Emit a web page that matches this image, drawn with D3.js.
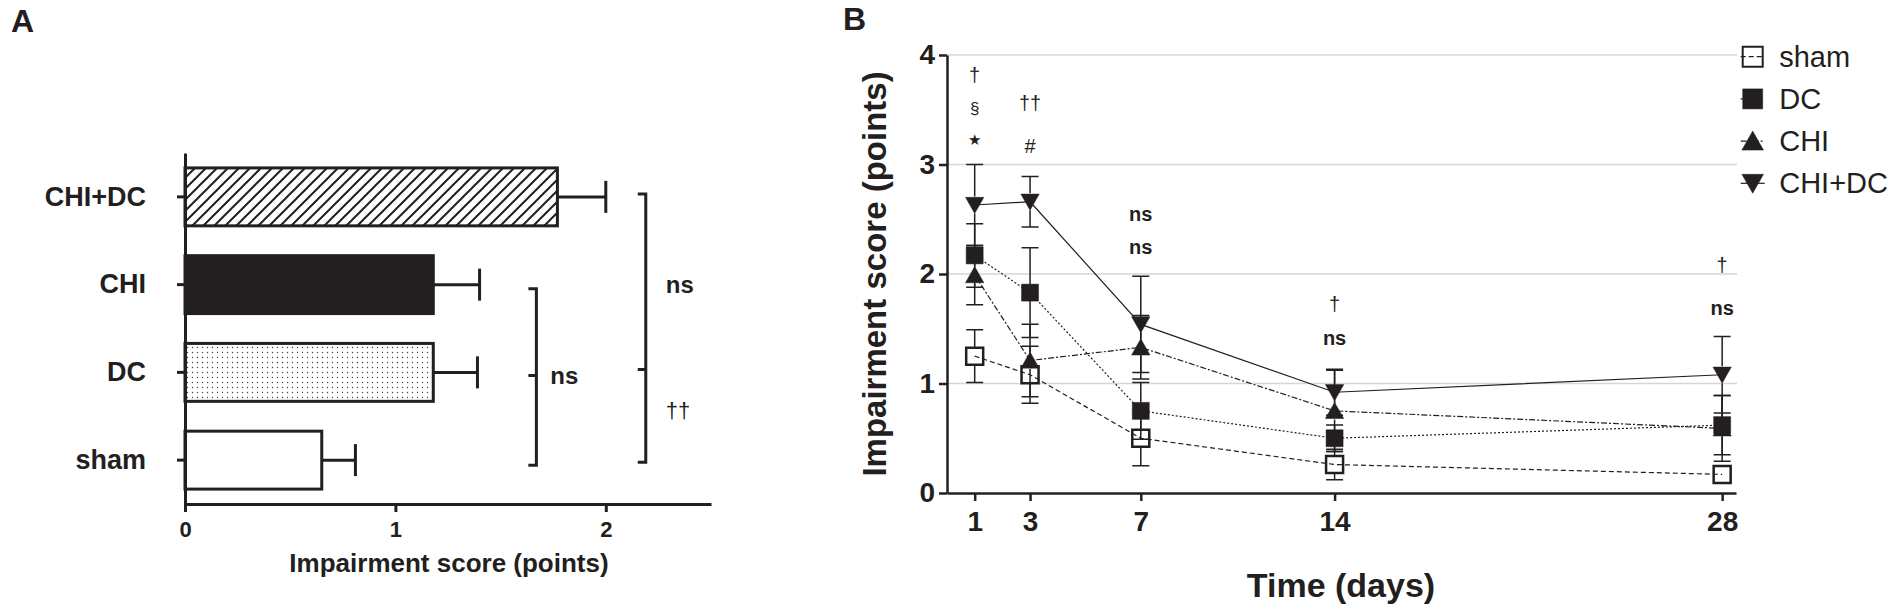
<!DOCTYPE html>
<html>
<head>
<meta charset="utf-8">
<script src="https://cdn.jsdelivr.net/npm/d3@7"></script>
<style>
  body { margin: 0; background: #fff; }
  text { font-family: "Liberation Sans", Arial, sans-serif; fill: #231f20; }
</style>
</head>
<body>
<div id="canvas"></div>
<script>
// ---- panel A data ----
const groupsA = ["CHI+DC", "CHI", "DC", "sham"];
const meanA = [1.77, 1.18, 1.18, 0.65];
const semA = [0.23, 0.22, 0.21, 0.16];
const ticksA = [0, 1, 2];

// ---- panel B data ----
const days = [1, 3, 7, 14, 28];
const seriesNames = ["sham", "DC", "CHI", "CHI+DC"];
const shamMean = [1.25, 1.08, 0.50, 0.26, 0.17];
const shamSem = [0.24, 0.26, 0.25, 0.14, 0.08];
const dcMean = [2.17, 1.83, 0.75, 0.50, 0.62];
const dcSem = [0.29, 0.41, 0.26, 0.12, 0.27];
const chiMean = [1.99, 1.21, 1.33, 0.75, 0.59];
const chiSem = [0.27, 0.33, 0.29, 0.37, 0.30];
const chidcMean = [2.63, 2.66, 1.54, 0.92, 1.08];
const chidcSem = [0.37, 0.23, 0.44, 0.21, 0.35];
const yTicksB = [0, 1, 2, 3, 4];

// significance marks above the time points
const noteDays = [1, 1, 1, 3, 3, 7, 7, 14, 14, 28, 28];
const noteVals = [3.82, 3.51, 3.22, 3.56, 3.17, 2.55, 2.25, 1.73, 1.42, 2.08, 1.69];
const noteText = ["†", "§", "★", "††", "#", "ns", "ns", "†", "ns", "†", "ns"];

const ink = "#231f20";
const width = 1902;
const height = 611;

const svg = d3.select("#canvas").append("svg")
  .attr("width", width)
  .attr("height", height);

const defs = svg.append("defs");
const hatch = defs.append("pattern")
  .attr("id", "hatch")
  .attr("patternUnits", "userSpaceOnUse")
  .attr("width", 11).attr("height", 11);
hatch.append("rect").attr("width", 11).attr("height", 11).attr("fill", "#fff");
hatch.append("path")
  .attr("d", "M-1,1 l2,-2 M0,11 l11,-11 M10,12 l2,-2")
  .attr("stroke", ink).attr("stroke-width", 2);

const dots = defs.append("pattern")
  .attr("id", "dots")
  .attr("patternUnits", "userSpaceOnUse")
  .attr("width", 5).attr("height", 5);
dots.append("rect").attr("width", 5).attr("height", 5).attr("fill", "#fff");
dots.append("circle").attr("cx", 2.5).attr("cy", 2.5).attr("r", 0.7).attr("fill", "#444");

const fills = { "CHI+DC": "url(#hatch)", "CHI": ink, "DC": "url(#dots)", "sham": "#fff" };

// ================= panel A =================
const xA = d3.scaleLinear().domain([0, 2.5]).range([185, 711]);
const yA = d3.scaleBand().domain(groupsA).range([153, 504])
  .paddingInner(0.34).paddingOuter(0.17);
const bw = yA.bandwidth();
const cA = (g) => yA(g) + bw / 2;

svg.append("text").attr("x", 11).attr("y", 32)
  .style("font-size", "32px").style("font-weight", "bold").text("A");

const gA = svg.append("g");

const barsA = gA.selectAll("g.bar")
  .data(groupsA.map((g, i) => ({ g: g, m: meanA[i], s: semA[i] })))
  .enter().append("g").attr("class", "bar");

barsA.append("line")
  .attr("x1", (d) => xA(d.m)).attr("x2", (d) => xA(d.m + d.s))
  .attr("y1", (d) => cA(d.g)).attr("y2", (d) => cA(d.g))
  .attr("stroke", ink).attr("stroke-width", 3);
barsA.append("line")
  .attr("x1", (d) => xA(d.m + d.s)).attr("x2", (d) => xA(d.m + d.s))
  .attr("y1", (d) => cA(d.g) - 16).attr("y2", (d) => cA(d.g) + 16)
  .attr("stroke", ink).attr("stroke-width", 3);
barsA.append("rect")
  .attr("x", xA(0))
  .attr("y", (d) => yA(d.g))
  .attr("width", (d) => xA(d.m) - xA(0))
  .attr("height", bw)
  .attr("fill", (d) => fills[d.g])
  .attr("stroke", ink).attr("stroke-width", 3);

const axA_x = gA.append("g")
  .attr("transform", "translate(0,504)")
  .call(d3.axisBottom(xA).tickValues(ticksA).tickFormat(d3.format("d"))
    .tickSize(8).tickSizeOuter(0).tickPadding(9));
const axA_y = gA.append("g")
  .attr("transform", "translate(185,0)")
  .call(d3.axisLeft(yA).tickSize(8).tickSizeOuter(0).tickPadding(31));

[axA_x, axA_y].forEach((ax) => {
  ax.select(".domain").attr("stroke", ink).attr("stroke-width", 3);
  ax.selectAll(".tick line").attr("stroke", ink).attr("stroke-width", 3);
  ax.selectAll("text").attr("fill", ink)
    .style("font-family", "'Liberation Sans', Arial, sans-serif")
    .style("font-weight", "bold");
});
axA_x.selectAll("text").style("font-size", "22px");
axA_y.selectAll("text").style("font-size", "27px");

gA.append("text")
  .attr("x", 449).attr("y", 572).attr("text-anchor", "middle")
  .style("font-size", "26px").style("font-weight", "bold")
  .text("Impairment score (points)");

// comparison brackets
const bracket = (xv, top, mid, bottom) => {
  const x = xA(xv);
  gA.append("path")
    .attr("d", `M${x - 8},${top}H${x}V${bottom}H${x - 8}M${x - 8},${mid}H${x}`)
    .attr("fill", "none").attr("stroke", ink).attr("stroke-width", 3);
};
bracket(1.67, cA("CHI") + 4, cA("DC") + 3, cA("sham") + 5);
bracket(2.19, cA("CHI+DC") - 3, cA("DC") - 3, cA("sham") + 2);

gA.append("text").attr("x", xA(1.67) + 14).attr("y", cA("DC") + 3)
  .attr("dominant-baseline", "central")
  .style("font-size", "24px").style("font-weight", "bold").text("ns");
gA.append("text").attr("x", xA(2.19) + 20).attr("y", cA("CHI"))
  .attr("dominant-baseline", "central")
  .style("font-size", "24px").style("font-weight", "bold").text("ns");
gA.append("text").attr("x", xA(2.19) + 20).attr("y", (cA("DC") + cA("sham")) / 2 - 6)
  .attr("dominant-baseline", "central")
  .style("font-size", "22px").text("††");

// ================= panel B =================
const xB = d3.scaleLinear().domain([0, 28.5]).range([947, 1736]);
const yB = d3.scaleLinear().domain([0, 4]).range([493, 55]);

svg.append("text").attr("x", 843).attr("y", 30)
  .style("font-size", "32px").style("font-weight", "bold").text("B");

const gB = svg.append("g");

gB.selectAll("line.grid")
  .data(yTicksB.filter((d) => d > 0))
  .enter().append("line")
  .attr("class", "grid")
  .attr("x1", xB(0)).attr("x2", xB(28.5) + 1)
  .attr("y1", (d) => yB(d)).attr("y2", (d) => yB(d))
  .attr("stroke", "#d6d6d6").attr("stroke-width", 1.5);

const axB_x = gB.append("g")
  .attr("transform", `translate(0,${yB(0)})`)
  .call(d3.axisBottom(xB).tickValues(days).tickFormat(d3.format("d"))
    .tickSize(8).tickSizeOuter(0).tickPadding(10));
const axB_y = gB.append("g")
  .attr("transform", `translate(${xB(0)},0)`)
  .call(d3.axisLeft(yB).tickValues(yTicksB).tickFormat(d3.format("d"))
    .tickSize(8).tickSizeOuter(0).tickPadding(4));

[axB_x, axB_y].forEach((ax) => {
  ax.select(".domain").attr("stroke", ink).attr("stroke-width", 2.5);
  ax.selectAll(".tick line").attr("stroke", ink).attr("stroke-width", 2.5);
  ax.selectAll("text").attr("fill", ink)
    .style("font-family", "'Liberation Sans', Arial, sans-serif")
    .style("font-weight", "bold").style("font-size", "28px");
});

gB.append("text")
  .attr("transform", `translate(886,${(yB(0) + yB(4)) / 2}) rotate(-90)`)
  .attr("text-anchor", "middle")
  .style("font-size", "33px").style("font-weight", "bold")
  .text("Impairment score (points)");
gB.append("text")
  .attr("x", 1341).attr("y", 597).attr("text-anchor", "middle")
  .style("font-size", "34px").style("font-weight", "bold")
  .text("Time (days)");

const series = [
  { name: "sham", mean: shamMean, sem: shamSem, dash: "5,3", shape: "square", fill: "none" },
  { name: "DC", mean: dcMean, sem: dcSem, dash: "2,2", shape: "square", fill: ink },
  { name: "CHI", mean: chiMean, sem: chiSem, dash: "6,2,2,2", shape: "up", fill: ink },
  { name: "CHI+DC", mean: chidcMean, sem: chidcSem, dash: null, shape: "down", fill: ink }
];

const markerPath = (shape, r) => {
  if (shape === "square") return `M${-r},${-r}H${r}V${r}H${-r}Z`;
  if (shape === "up") return `M0,${-r}L${r * 1.08},${r * 0.9}H${-r * 1.08}Z`;
  return `M0,${r}L${r * 1.08},${-r * 0.9}H${-r * 1.08}Z`;
};

const line = d3.line().x((d) => xB(d.day)).y((d) => yB(d.v));

series.forEach((s) => {
  s.pts = days.map((day, i) => ({ day: day, v: s.mean[i], e: s.sem[i] }));
  gB.append("path")
    .datum(s.pts)
    .attr("d", line)
    .attr("fill", "none").attr("stroke", ink).attr("stroke-width", 1.2)
    .attr("stroke-dasharray", s.dash);
});

// error bars (stop at the marker edge)
series.forEach((s) => {
  const eb = gB.selectAll(null).data(s.pts).enter().append("g");
  eb.append("path")
    .attr("d", (d) => {
      const x = xB(d.day), yt = yB(d.v + d.e), yb = yB(d.v - d.e), y = yB(d.v);
      return `M${x},${yt}V${Math.max(yt, y - 8.5)}M${x},${yb}V${Math.min(yb, y + 8.5)}` +
        `M${x - 8.5},${yt}H${x + 8.5}M${x - 8.5},${yb}H${x + 8.5}`;
    })
    .attr("fill", "none").attr("stroke", ink).attr("stroke-width", 1.5);
});

series.forEach((s) => {
  gB.selectAll(null).data(s.pts).enter().append("path")
    .attr("transform", (d) => `translate(${xB(d.day)},${yB(d.v)})`)
    .attr("d", markerPath(s.shape, 8.5))
    .attr("fill", s.fill)
    .attr("stroke", ink).attr("stroke-width", s.fill === "none" ? 2.5 : 0.5);
});

// significance notes
gB.selectAll("text.note")
  .data(noteText.map((t, i) => ({ t: t, day: noteDays[i], v: noteVals[i] })))
  .enter().append("text")
  .attr("class", "note")
  .attr("x", (d) => xB(d.day))
  .attr("y", (d) => yB(d.v))
  .attr("text-anchor", "middle")
  .attr("dominant-baseline", "central")
  .style("font-family", (d) => d.t === "★" ? "'DejaVu Sans', sans-serif" : null)
  .style("font-weight", (d) => d.t === "ns" ? "bold" : "normal")
  .style("font-size", (d) => d.t === "★" ? "15px" : d.t === "§" ? "17px" : "20px")
  .text((d) => d.t);

// legend
const leg = gB.selectAll("g.leg")
  .data(series)
  .enter().append("g")
  .attr("class", "leg")
  .attr("transform", (d, i) => `translate(1752.7,${56.7 + i * 42.2})`);
leg.append("line")
  .attr("x1", -12).attr("x2", 12)
  .attr("stroke", ink).attr("stroke-width", 1.2)
  .attr("stroke-dasharray", (d) => d.dash);
leg.append("path")
  .attr("d", (d) => markerPath(d.shape, 10))
  .attr("fill", (d) => d.fill)
  .attr("stroke", ink).attr("stroke-width", (d) => d.fill === "none" ? 2 : 0.5);
leg.append("text")
  .attr("x", 26.5).attr("dy", "0.35em")
  .style("font-size", "29px")
  .text((d) => d.name);
</script>
</body>
</html>
